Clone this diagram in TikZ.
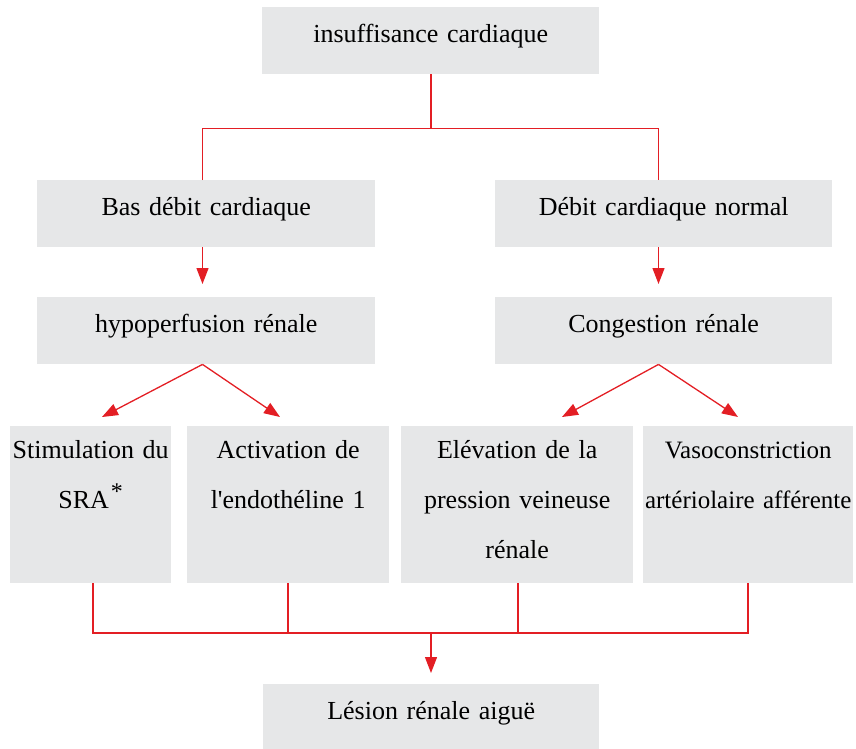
\documentclass[tikz,border=0pt]{standalone}
\usepackage{fontspec}
\setmainfont{Liberation Serif}
\usetikzlibrary{arrows.meta}
\definecolor{boxgray}{HTML}{E6E7E8}
\definecolor{linkred}{HTML}{E31E24}
\newcommand\plainquote{{\addfontfeatures{Ligatures=TeXOff}\symbol{39}}}
\begin{document}
\begin{tikzpicture}[x=1pt,y=-1pt,
  box/.style={fill=boxgray, inner sep=0pt, anchor=north west, align=center,
    font=\fontsize{26}{50}\selectfont},
  oneline/.style={text height=35pt, text depth=#1},
  multiline/.style={text height=32pt, text depth=125pt},
  link/.style={draw=linkred, line width=1.3pt},
  arr/.style={link, -{Triangle[length=16pt,width=12pt]}}]
\useasboundingbox (0,0) rectangle (856,749);

% boxes
\node[box, oneline=32pt, text width=337pt] (top) at (262,7) {insuffisance cardiaque};
\node[box, oneline=32pt, text width=338pt] (bas) at (37,180) {Bas débit cardiaque};
\node[box, oneline=32pt, text width=337pt] (normal) at (495,180) {Débit cardiaque normal};
\node[box, oneline=32pt, text width=338pt] (hypo) at (37,297) {hypoperfusion rénale};
\node[box, oneline=32pt, text width=337pt] (cong) at (495,297) {Congestion rénale};
\node[box, multiline, text width=161pt] (stim) at (10,426)
  {Stimulation du\\SRA\hspace{2pt}\raisebox{9pt}{\fontsize{24}{24}\selectfont *}};
\node[box, multiline, text width=202pt] (act) at (187,426)
  {Activation de\\l\plainquote endothéline 1};
\node[box, multiline, text width=232pt] (elev) at (401,426)
  {Elévation de la\\pression veineuse\\rénale};
\node[box, multiline, text width=210pt, font=\fontsize{25}{50}\selectfont] (vaso) at (643,426)
  {Vasoconstriction\\artériolaire afférente};
\node[box, oneline=30pt, text width=336pt] (lesion) at (263,684) {Lésion rénale aiguë};

% helper coordinates
\coordinate (xM) at (431,0);
\coordinate (xL) at (202.5,0);
\coordinate (xR) at (658.5,0);
\coordinate (yTop) at (0,128.5);
\coordinate (yBot) at (0,633);
\coordinate (x1) at (93,0);
\coordinate (x2) at (288,0);
\coordinate (x3) at (518,0);
\coordinate (x4) at (748,0);
\coordinate (t1) at (102,417);
\coordinate (t2) at (280,417);
\coordinate (t3) at (562,417);
\coordinate (t4) at (738,417);

% top tree
\draw[link] (top.south -| xM) -- (xM |- yTop);
\draw[link] (bas.north -| xL) |- (yTop -| xR) -- (normal.north -| xR);

% vertical arrows
\draw[arr, shorten >=13pt] (bas.south -| xL) -- (hypo.north -| xL);
\draw[arr, shorten >=13pt] (normal.south -| xR) -- (cong.north -| xR);

% diagonal arrows
\draw[arr] (hypo.south -| xL) -- (t1);
\draw[arr] (hypo.south -| xL) -- (t2);
\draw[arr] (cong.south -| xR) -- (t3);
\draw[arr] (cong.south -| xR) -- (t4);

% bottom collector
\draw[link] (stim.south -| x1) |- (yBot -| x4) -- (vaso.south -| x4);
\draw[link] (act.south -| x2) -- (x2 |- yBot);
\draw[link] (elev.south -| x3) -- (x3 |- yBot);
\draw[arr, shorten >=11pt] (xM |- yBot) -- (lesion.north -| xM);
\end{tikzpicture}
\end{document}
